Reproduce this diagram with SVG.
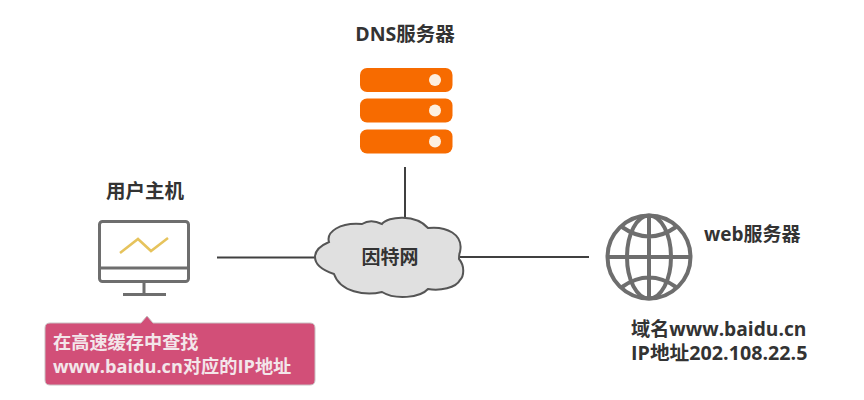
<svg xmlns="http://www.w3.org/2000/svg" width="864" height="400" viewBox="0 0 864 400">
<style>
.t{font-family:"Open Sans","Noto Sans CJK SC",sans-serif;font-weight:700;fill:#333;font-size:19.500px}
.m{font-size:19px}
.w{fill:#f3e6ea;font-size:18.200px}
.g{fill:none;stroke:#6e6e6e}
.c{fill:none;stroke:#404040;stroke-width:2}
.b{fill:#f76b00}
.d{fill:#fdf0e0}
</style>
<rect width="864" height="400" fill="#fff"/>
<g id="connectors">
<path class="c" d="M217 257.500H316"/>
<path class="c" d="M405 167V218"/>
<path class="c" d="M460 257H589"/>
</g>
<g id="dns">
<text class="t" x="405" y="41" text-anchor="middle">DNS服务器</text>
<rect class="b" x="360" y="68" width="92.500" height="24" rx="7"/><circle class="d" cx="435" cy="80" r="6"/>
<rect class="b" x="360" y="98.500" width="92.500" height="24" rx="7"/><circle class="d" cx="435" cy="110.500" r="6"/>
<rect class="b" x="360" y="129.500" width="92.500" height="24" rx="7"/><circle class="d" cx="435" cy="141.500" r="6"/>
</g>
<g id="host">
<text class="t" x="145" y="198" text-anchor="middle">用户主机</text>
<rect class="g" x="99.500" y="221.500" width="89" height="60" rx="3" stroke-width="3"/>
<path class="g" stroke-width="3" d="M99.500 268H188.500M144 282V294M123 294.500H166"/>
<path fill="none" stroke="#e6c35c" stroke-width="2.500" d="M120 253L138 239L151 251L168 238"/>
</g>
<g id="cloud">
<path fill="#e0e0e0" stroke="#555" stroke-width="2" d="M315 257C315 250 322 245 329 242C326 232 340 222 362 224C368 220 376 221 382 224C388 216 416 214 428 228C446 226 464 234 460 252C459 254 459 257 459 259C465 266 464 276 460 280C456 288 440 291 428 289C420 298 395 300 382 292C365 296 340 292 334 274C322 270 315 264 315 257Z"/>
<text class="t m" x="390" y="264" text-anchor="middle">因特网</text>
</g>
<g id="web">
<circle class="g" cx="649" cy="257" r="41.500" stroke-width="4"/>
<ellipse class="g" cx="649" cy="257" rx="22" ry="41.500" stroke-width="4"/>
<path class="g" stroke-width="4" d="M649 215V299M607 257H691M622 227Q649 246 676 227M622 287Q649 268 676 287"/>
<text class="t m" x="704" y="241">web服务器</text>
<text class="t" x="631" y="336" font-size="19" style="font-size:19.200px">域名www.baidu.cn</text>
<text class="t" x="631" y="360" style="font-size:19.700px">IP地址202.108.22.5</text>
</g>
<g id="callout">
<path fill="#d24f78" stroke="#c8c0c2" stroke-width="1" d="M50 323H141L147 316L153 323H310Q315 323 315 328V380Q315 385 310 385H50Q45 385 45 380V328Q45 323 50 323Z"/>
<text class="t w" x="53" y="349">在高速缓存中查找</text>
<text class="t w" x="53" y="373">www.baidu.cn对应的IP地址</text>
</g>
</svg>
